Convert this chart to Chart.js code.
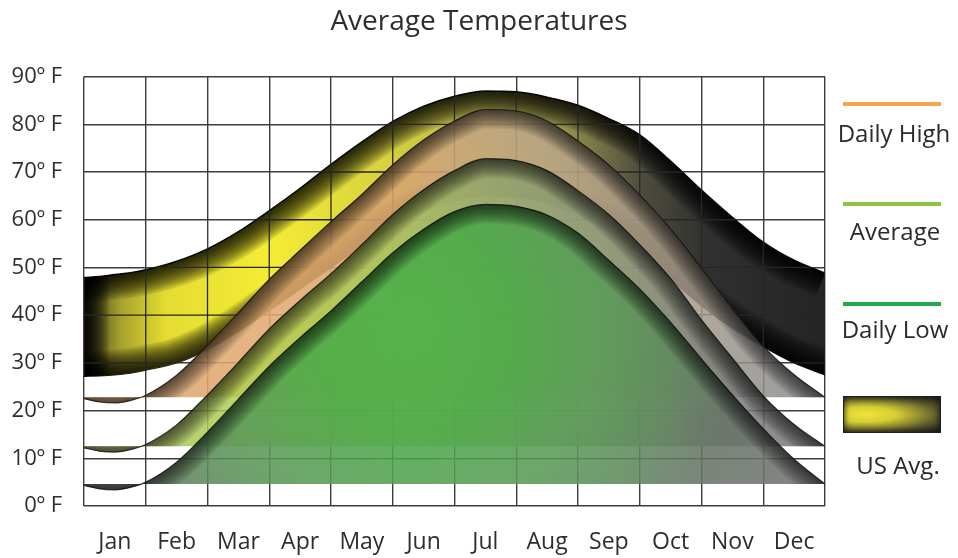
<!DOCTYPE html>
<html>
<head>
<meta charset="utf-8">
<script src="https://cdn.jsdelivr.net/npm/chart.js@4.4.1/dist/chart.umd.min.js"></script>
<style>
  body { margin: 0; background: #fff; }
  #wrap { position: relative; width: 958px; height: 558px; }
  .key { position: absolute; left: 843px; width: 98px; height: 4px; }
  .lbl { position: absolute; width: 130px; text-align: center; font: 24px "Open Sans", sans-serif; color: #2b2b2b; line-height: 26px; }
  .swatch { position: absolute; left: 843px; top: 396px; width: 96px; height: 35px; border: 1px solid #1e1e1e;
            background: radial-gradient(ellipse at 22% 50%, #eee438 0%, #d6ce34 30%, #5a582c 70%, #1c1c1c 100%);
            box-shadow: inset 0 0 6px #111; }
</style>
</head>
<body>
<div id="wrap">
  <canvas id="chart" width="958" height="558"></canvas>
  <div id="legend"></div>
</div>
<script>
// month labels and x positions of the points (in months from the left edge)
var months = ['Jan', 'Feb', 'Mar', 'Apr', 'May', 'Jun', 'Jul', 'Aug', 'Sep', 'Oct', 'Nov', 'Dec'];
var xPos = [0, 0.25, 0.5, 0.75, 1, 1.5, 2, 2.5, 3, 3.5, 4, 4.5, 5, 5.5, 6, 6.5, 7, 7.5, 8, 8.5, 9, 9.5, 10, 10.5, 11, 11.5, 12];

// US average band (upper and lower edge), degrees F
var usAvgTop    = [47.9, 48.1, 48.5, 48.9, 49.5, 51.3, 53.9, 57.5, 61.9, 66.6, 71.6, 76.3, 80.6, 83.8, 85.9, 87.0, 86.8, 85.7, 84.0, 81.2, 77.8, 72.3, 66.2, 60.5, 55.3, 51.5, 48.8];
var usAvgBottom = [27.2, 27.3, 27.5, 27.9, 28.5, 30.0, 32.8, 36.6, 41.0, 45.5, 50.0, 54.5, 58.5, 61.8, 64.0, 65.0, 64.8, 63.5, 61.0, 57.5, 53.0, 47.5, 42.0, 37.3, 33.4, 30.0, 27.5];

// local curves
var dailyHigh = [22.5, 21.8, 21.6, 22.1, 23.2, 27.4, 33.7, 40.5, 47.5, 53.6, 59.6, 65.3, 71.5, 76.7, 80.7, 83.1, 82.8, 80.7, 76.5, 71.5, 65.2, 58.1, 49.9, 41.4, 33.5, 27.5, 22.8];
var average   = [12.2, 11.5, 11.3, 11.8, 12.9, 17.0, 23.3, 30.1, 37.1, 43.1, 48.7, 54.8, 61.1, 66.3, 70.3, 72.8, 72.4, 70.3, 66.1, 61.1, 54.8, 47.7, 39.0, 31.0, 23.1, 17.1, 12.5];
var dailyLow  = [4.3, 3.6, 3.4, 3.9, 5.0, 9.2, 15.5, 22.4, 29.3, 35.3, 40.9, 47.0, 53.1, 58.0, 61.7, 63.2, 62.8, 61.0, 57.2, 51.5, 45.5, 38.5, 30.8, 23.3, 16.2, 9.8, 4.6];

// flat bottoms of the three shapes
var highBase = 22.8;
var avgBase = 12.5;
var lowBase = 4.6;

var legendNames = ['Daily High', 'Average', 'Daily Low', 'US Avg.'];
var legendColors = ['#f2a64a', '#8cc63e', '#1ea94b'];

function pts(arr) {
    return arr.map(function (v, i) { return { x: xPos[i], y: v }; });
}

function radial(mx, my, r, stops) {
    return function (context) {
        var chart = context.chart;
        if (!chart.chartArea) return null;
        var cx = chart.scales.x.getPixelForValue(mx);
        var cy = chart.scales.y.getPixelForValue(my);
        var g = chart.ctx.createRadialGradient(cx, cy, 0, cx, cy, r);
        stops.forEach(function (s) { g.addColorStop(s[0], s[1]); });
        return g;
    };
}

function bandFill(context) {
    var chart = context.chart;
    if (!chart.chartArea) return null;
    var xs = chart.scales.x;
    var g = chart.ctx.createLinearGradient(xs.getPixelForValue(0), 0, xs.getPixelForValue(12), 0);
    g.addColorStop(0, '#3c3a22');
    g.addColorStop(0.05, '#a8a22c');
    g.addColorStop(0.11, '#e4dc32');
    g.addColorStop(0.25, '#f4ec34');
    g.addColorStop(0.4, '#d8d240');
    g.addColorStop(0.55, '#b4b04e');
    g.addColorStop(0.66, '#8c8a4c');
    g.addColorStop(0.75, '#4e4e3e');
    g.addColorStop(0.84, '#303030');
    g.addColorStop(1, '#242424');
    return g;
}

function traceForward(ctx, p) {
    ctx.lineTo(p[0].x, p[0].y);
    for (var i = 1; i < p.length; i++) {
        if (p[i].cp1x === undefined) { ctx.lineTo(p[i].x, p[i].y); continue; }
        ctx.bezierCurveTo(p[i - 1].cp2x, p[i - 1].cp2y, p[i].cp1x, p[i].cp1y, p[i].x, p[i].y);
    }
}

function traceBackward(ctx, p) {
    var n = p.length - 1;
    ctx.lineTo(p[n].x, p[n].y);
    for (var i = n - 1; i >= 0; i--) {
        if (p[i].cp1x === undefined) { ctx.lineTo(p[i].x, p[i].y); continue; }
        ctx.bezierCurveTo(p[i + 1].cp1x, p[i + 1].cp1y, p[i].cp2x, p[i].cp2y, p[i].x, p[i].y);
    }
}

// dark inner edge on each shape, like the airbrushed original
var shadePlugin = {
    id: 'shade',
    afterDatasetDraw: function (chart, args) {
        var ds = chart.data.datasets[args.index];
        if (!ds.shade) return;
        var ctx = chart.ctx, area = chart.chartArea;
        var xs = chart.scales.x, ys = chart.scales.y;
        var top = args.meta.data;
        var bottom = null;
        ctx.save();
        ctx.beginPath();
        ctx.rect(area.left, area.top, area.width, area.height);
        ctx.clip();
        ctx.beginPath();
        traceForward(ctx, top);
        if (ds.shade === 'band') {
            bottom = chart.getDatasetMeta(args.index + 1).data;
            traceBackward(ctx, bottom);
        } else {
            var by = ys.getPixelForValue(ds.base);
            ctx.lineTo(top[top.length - 1].x, by);
            ctx.lineTo(top[0].x, by);
        }
        ctx.closePath();
        ctx.clip();

        ctx.lineJoin = 'round';
        ctx.strokeStyle = 'rgba(0,0,0,' + ds.shadeAlpha + ')';
        for (var w = ds.shadeWidth; w >= 2; w -= 3) {
            ctx.lineWidth = w;
            ctx.beginPath();
            traceForward(ctx, top);
            ctx.stroke();
            if (bottom) {
                ctx.beginPath();
                traceForward(ctx, bottom);
                ctx.stroke();
                ctx.beginPath();
                ctx.moveTo(top[0].x, top[0].y);
                ctx.lineTo(bottom[0].x, bottom[0].y);
                ctx.stroke();
            }
        }
        if (bottom) {
            // grid stays visible through the band
            ctx.strokeStyle = '#262626';
            ctx.lineWidth = 1.3;
            ctx.beginPath();
            for (var i = 0; i <= months.length; i++) {
                var x = xs.getPixelForValue(i);
                ctx.moveTo(x, area.top);
                ctx.lineTo(x, area.bottom);
            }
            for (var v = 0; v <= 90; v += 10) {
                var y = ys.getPixelForValue(v);
                ctx.moveTo(area.left, y);
                ctx.lineTo(area.right, y);
            }
            ctx.stroke();
        }
        ctx.restore();
    }
};

function makeLegend() {
    var box = document.getElementById('legend');
    var lineTops = [102, 202, 302];
    var textTops = [120, 218, 316, 452];
    var textLefts = [829, 830, 830, 833];
    for (var i = 0; i < 3; i++) {
        var k = document.createElement('div');
        k.className = 'key';
        k.style.top = lineTops[i] + 'px';
        k.style.background = legendColors[i];
        box.appendChild(k);
    }
    var sw = document.createElement('div');
    sw.className = 'swatch';
    box.appendChild(sw);
    for (var j = 0; j < legendNames.length; j++) {
        var t = document.createElement('div');
        t.className = 'lbl';
        t.style.top = textTops[j] + 'px';
        t.style.left = textLefts[j] + 'px';
        t.textContent = legendNames[j];
        box.appendChild(t);
    }
}

function makeChart() {
    Chart.defaults.font.family = '"Open Sans", sans-serif';
    Chart.defaults.color = '#2e2e2e';

    var gridColor = '#3c3c3c';

    new Chart(document.getElementById('chart'), {
        type: 'line',
        data: {
            datasets: [{
                label: 'US Avg.',
                data: pts(usAvgTop),
                fill: '+1',
                backgroundColor: bandFill,
                borderColor: '#1c1c1c',
                borderWidth: 1.5,
                order: 5,
                shade: 'band', shadeAlpha: 0.09, shadeWidth: 50
            }, {
                label: 'US Avg. low',
                data: pts(usAvgBottom),
                fill: false,
                borderColor: '#1c1c1c',
                borderWidth: 1.5,
                order: 5
            }, {
                label: 'Daily High',
                data: pts(dailyHigh),
                fill: { value: highBase },
                backgroundColor: radial(3, 35, 560, [
                    [0, 'rgba(226,170,112,0.88)'], [0.35, 'rgba(216,164,112,0.88)'], [0.6, 'rgba(188,166,136,0.85)'],
                    [0.85, 'rgba(150,146,140,0.85)'], [1, 'rgba(136,136,136,0.85)']]),
                borderColor: 'rgba(40,35,30,0.85)',
                borderWidth: 1.2,
                order: 3,
                shade: 'shape', base: highBase, shadeAlpha: 0.065, shadeWidth: 38
            }, {
                label: 'Average',
                data: pts(average),
                fill: { value: avgBase },
                backgroundColor: radial(3.2, 28, 560, [
                    [0, 'rgba(180,208,76,0.84)'], [0.3, 'rgba(164,196,88,0.84)'], [0.55, 'rgba(142,160,112,0.84)'],
                    [0.8, 'rgba(124,124,124,0.86)'], [1, 'rgba(120,120,120,0.86)']]),
                borderColor: 'rgba(35,40,30,0.85)',
                borderWidth: 1.2,
                order: 2,
                shade: 'shape', base: avgBase, shadeAlpha: 0.065, shadeWidth: 38
            }, {
                label: 'Daily Low',
                data: pts(dailyLow),
                fill: { value: lowBase },
                backgroundColor: radial(5.3, 38, 430, [
                    [0, 'rgba(72,176,72,0.88)'], [0.25, 'rgba(74,168,72,0.88)'], [0.45, 'rgba(90,154,88,0.88)'],
                    [0.6, 'rgba(94,138,92,0.88)'], [0.75, 'rgba(104,116,104,0.88)'], [1, 'rgba(114,114,114,0.88)']]),
                borderColor: 'rgba(30,40,30,0.85)',
                borderWidth: 1.2,
                order: 1,
                shade: 'shape', base: lowBase, shadeAlpha: 0.065, shadeWidth: 38
            }]
        },
        options: {
            responsive: false,
            animation: false,
            devicePixelRatio: 1,
            elements: {
                point: { radius: 0 },
                line: { cubicInterpolationMode: 'monotone' }
            },
            plugins: {
                legend: { display: false },
                tooltip: { enabled: false },
                title: {
                    display: true,
                    text: 'Average Temperatures',
                    color: '#2e2e2e',
                    font: { size: 28, weight: 'normal' },
                    padding: { top: 5, bottom: 38 }
                }
            },
            scales: {
                x: {
                    type: 'linear', min: 0, max: 12,
                    ticks: { stepSize: 1, display: false },
                    grid: { color: gridColor, lineWidth: 1.4, drawTicks: false },
                    border: { display: false },
                    afterFit: function (s) { s.height = 0; }
                },
                xm: {
                    type: 'linear', position: 'bottom', min: 0, max: 12,
                    grid: { display: false, drawTicks: false },
                    border: { display: false },
                    afterBuildTicks: function (s) {
                        s.ticks = months.map(function (m, i) { return { value: i + 0.5 }; });
                    },
                    ticks: {
                        autoSkip: false, maxRotation: 0, padding: 23,
                        font: { size: 23 },
                        callback: function (v, i) { return months[i]; }
                    },
                    afterFit: function (s) { s.height = 52; }
                },
                y: {
                    min: 0, max: 90,
                    ticks: {
                        stepSize: 10, padding: 22,
                        font: { size: 22 },
                        callback: function (v) { return v + 'º F'; }
                    },
                    grid: { color: gridColor, lineWidth: 1.4, drawTicks: false },
                    border: { display: false },
                    afterFit: function (s) { s.width = 84; }
                },
                // empty right-hand axis keeps room for the legend
                yr: {
                    position: 'right', min: 0, max: 90,
                    ticks: { display: false },
                    grid: { display: false, drawTicks: false },
                    border: { display: false },
                    afterFit: function (s) { s.width = 133; }
                }
            }
        },
        plugins: [shadePlugin]
    });
}

makeLegend();
makeChart();
</script>
</body>
</html>
